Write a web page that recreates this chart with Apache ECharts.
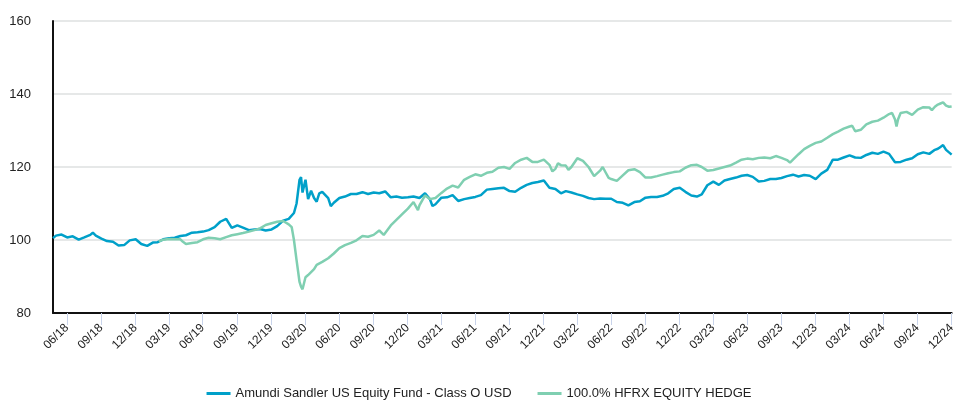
<!DOCTYPE html>
<html>
<head>
<meta charset="utf-8">
<script src="https://cdn.jsdelivr.net/npm/echarts@6/dist/echarts.min.js"></script>
<style>
  html, body { margin: 0; padding: 0; background: #fff; }
  #chart-container { width: 958px; height: 401px; }
</style>
</head>
<body>
<div id="chart-container"></div>
<script>
var dom = document.getElementById("chart-container");
var myChart = echarts.init(dom, null, { renderer: "canvas" });

// Amundi Sandler US Equity Fund - Class O USD
const fundDates = [
  "2018-05-24", "2018-06-01", "2018-06-16", "2018-07-01", "2018-07-16", "2018-08-01", "2018-08-16",
  "2018-09-01", "2018-09-08", "2018-09-16", "2018-10-01", "2018-10-16", "2018-11-01", "2018-11-16",
  "2018-12-01", "2018-12-16", "2019-01-01", "2019-01-16", "2019-02-01", "2019-02-16", "2019-03-01",
  "2019-03-16", "2019-04-01", "2019-04-16", "2019-05-01", "2019-05-16", "2019-06-01", "2019-06-16",
  "2019-07-01", "2019-07-16", "2019-08-01", "2019-08-16", "2019-09-01", "2019-09-16", "2019-10-01",
  "2019-10-16", "2019-11-01", "2019-11-16", "2019-12-01", "2019-12-16", "2020-01-01", "2020-01-16",
  "2020-02-01", "2020-02-16", "2020-03-01", "2020-03-08", "2020-03-16", "2020-03-20", "2020-03-24",
  "2020-04-01", "2020-04-08", "2020-04-16", "2020-04-24", "2020-05-01", "2020-05-08", "2020-05-16",
  "2020-06-01", "2020-06-08", "2020-06-16", "2020-07-01", "2020-07-16", "2020-08-01", "2020-08-16",
  "2020-09-01", "2020-09-16", "2020-10-01", "2020-10-16", "2020-11-01", "2020-11-16", "2020-12-01",
  "2020-12-16", "2021-01-01", "2021-01-16", "2021-02-01", "2021-02-16", "2021-03-01", "2021-03-08",
  "2021-03-16", "2021-04-01", "2021-04-16", "2021-05-01", "2021-05-16", "2021-06-01", "2021-06-16",
  "2021-07-01", "2021-07-16", "2021-08-01", "2021-08-16", "2021-09-01", "2021-09-16", "2021-10-01",
  "2021-10-16", "2021-11-01", "2021-11-16", "2021-12-01", "2021-12-16", "2022-01-01", "2022-01-16",
  "2022-02-01", "2022-02-16", "2022-03-01", "2022-03-16", "2022-04-01", "2022-04-16", "2022-05-01",
  "2022-05-16", "2022-06-01", "2022-06-16", "2022-07-01", "2022-07-16", "2022-08-01", "2022-08-16",
  "2022-09-01", "2022-09-16", "2022-10-01", "2022-10-16", "2022-11-01", "2022-11-16", "2022-12-01",
  "2022-12-16", "2023-01-01", "2023-01-16", "2023-02-01", "2023-02-16", "2023-03-01", "2023-03-16",
  "2023-04-01", "2023-04-16", "2023-05-01", "2023-05-16", "2023-06-01", "2023-06-16", "2023-07-01",
  "2023-07-16", "2023-08-01", "2023-08-16", "2023-09-01", "2023-09-16", "2023-10-01", "2023-10-16",
  "2023-11-01", "2023-11-16", "2023-12-01", "2023-12-16", "2024-01-01", "2024-01-16", "2024-02-01",
  "2024-02-08", "2024-02-16", "2024-03-01", "2024-03-16", "2024-04-01", "2024-04-16", "2024-05-01",
  "2024-05-16", "2024-06-01", "2024-06-16", "2024-07-01", "2024-07-16", "2024-08-01", "2024-08-16",
  "2024-09-01", "2024-09-16", "2024-10-01", "2024-10-16", "2024-11-01", "2024-11-16", "2024-11-24",
  "2024-12-01", "2024-12-08", "2024-12-16", "2024-12-24", "2024-12-31"
];
const fundValues = [
  100.5, 101.2, 101.5, 100.7, 101.0, 100.1, 100.7,
  101.4, 102.0, 101.2, 100.4, 99.7, 99.5, 98.5,
  98.6, 99.9, 100.2, 98.9, 98.4, 99.3, 99.4,
  100.2, 100.5, 100.6, 101.1, 101.3, 102.0, 102.1,
  102.3, 102.7, 103.5, 105.0, 105.8, 103.3, 104.0,
  103.4, 102.7, 102.9, 103.0, 102.6, 102.9, 103.8,
  105.3, 105.8, 107.4, 110.0, 116.5, 117.2, 113.0,
  116.5, 111.2, 113.5, 111.5, 110.5, 112.8, 113.2,
  111.5, 109.3, 110.2, 111.5, 111.9, 112.6, 112.6,
  113.1, 112.6, 113.0, 112.8, 113.3, 111.7, 111.9,
  111.6, 111.7, 111.9, 111.5, 112.8, 111.2, 109.3,
  109.8, 111.6, 111.7, 112.3, 110.7, 111.2, 111.5,
  111.8, 112.3, 113.8, 114.0, 114.2, 114.3, 113.4,
  113.2, 114.3, 115.1, 115.6, 115.9, 116.3, 114.3,
  114.0, 112.8, 113.4, 113.0, 112.5, 112.1, 111.5,
  111.2, 111.4, 111.3, 111.3, 110.4, 110.2, 109.5,
  110.4, 110.6, 111.6, 111.8, 111.8, 112.1, 112.8,
  114.0, 114.3, 113.2, 112.2, 111.9, 112.5, 115.0,
  116.0, 115.1, 116.3, 116.7, 117.1, 117.6, 117.8,
  117.3, 116.0, 116.2, 116.7, 116.7, 117.0, 117.5,
  117.9, 117.4, 117.8, 117.6, 116.7, 118.2, 119.2,
  120.5, 122.0, 122.0, 122.6, 123.2, 122.6, 122.5,
  123.3, 123.9, 123.6, 124.2, 123.6, 121.3, 121.4,
  122.0, 122.4, 123.5, 124.0, 123.6, 124.7, 125.0,
  125.5, 126.0, 124.7, 124.0, 123.4
];

// 100.0% HFRX EQUITY HEDGE
const hedgeDates = [
  "2019-03-04", "2019-03-16", "2019-04-01", "2019-04-16", "2019-05-01", "2019-05-08", "2019-05-16",
  "2019-06-01", "2019-06-16", "2019-07-01", "2019-07-16", "2019-08-01", "2019-08-16", "2019-09-01",
  "2019-09-16", "2019-10-01", "2019-10-16", "2019-11-01", "2019-11-16", "2019-12-01", "2019-12-16",
  "2020-01-01", "2020-01-16", "2020-02-01", "2020-02-16", "2020-02-24", "2020-03-01", "2020-03-08",
  "2020-03-16", "2020-03-20", "2020-03-24", "2020-04-01", "2020-04-08", "2020-04-16", "2020-04-24",
  "2020-05-01", "2020-05-16", "2020-06-01", "2020-06-16", "2020-07-01", "2020-07-16", "2020-08-01",
  "2020-08-16", "2020-09-01", "2020-09-16", "2020-10-01", "2020-10-16", "2020-10-28", "2020-11-01",
  "2020-11-16", "2020-12-01", "2020-12-16", "2021-01-01", "2021-01-16", "2021-01-28", "2021-02-01",
  "2021-02-16", "2021-03-01", "2021-03-16", "2021-04-01", "2021-04-16", "2021-05-01", "2021-05-16",
  "2021-06-01", "2021-06-16", "2021-07-01", "2021-07-16", "2021-08-01", "2021-08-16", "2021-09-01",
  "2021-09-16", "2021-10-01", "2021-10-16", "2021-11-01", "2021-11-16", "2021-12-01", "2021-12-16",
  "2022-01-01", "2022-01-16", "2022-01-24", "2022-02-01", "2022-02-08", "2022-02-16", "2022-03-01",
  "2022-03-08", "2022-03-16", "2022-04-01", "2022-04-16", "2022-05-01", "2022-05-16", "2022-06-01",
  "2022-06-08", "2022-06-16", "2022-06-24", "2022-07-01", "2022-07-16", "2022-08-01", "2022-08-16",
  "2022-09-01", "2022-09-16", "2022-10-01", "2022-10-16", "2022-11-01", "2022-11-16", "2022-12-01",
  "2022-12-16", "2023-01-01", "2023-01-16", "2023-02-01", "2023-02-16", "2023-03-01", "2023-03-16",
  "2023-04-01", "2023-04-16", "2023-05-01", "2023-05-16", "2023-06-01", "2023-06-16", "2023-07-01",
  "2023-07-16", "2023-08-01", "2023-08-16", "2023-09-01", "2023-09-16", "2023-10-01", "2023-10-16",
  "2023-10-24", "2023-11-01", "2023-11-16", "2023-12-01", "2023-12-16", "2024-01-01", "2024-01-16",
  "2024-02-01", "2024-02-16", "2024-03-01", "2024-03-16", "2024-04-01", "2024-04-08", "2024-04-16",
  "2024-04-20", "2024-05-01", "2024-05-16", "2024-06-01", "2024-06-16", "2024-07-01", "2024-07-16",
  "2024-07-24", "2024-08-01", "2024-08-05", "2024-08-09", "2024-08-16", "2024-09-01", "2024-09-16",
  "2024-10-01", "2024-10-16", "2024-11-01", "2024-11-08", "2024-11-16", "2024-11-24", "2024-12-01",
  "2024-12-08", "2024-12-16", "2024-12-24", "2024-12-31"
];
const hedgeValues = [
  99.6, 100.1, 100.3, 100.2, 100.2, 99.5, 98.9,
  99.2, 99.4, 100.2, 100.6, 100.5, 100.2, 100.8,
  101.3, 101.6, 101.9, 102.3, 102.7, 103.2, 104.1,
  104.6, 105.0, 105.2, 104.3, 103.5, 100.0, 94.5,
  88.5, 87.2, 86.5, 89.8, 90.4, 91.2, 92.0,
  93.2, 94.0, 95.0, 96.3, 97.8, 98.6, 99.2,
  99.9, 101.1, 100.9, 101.4, 102.6, 101.4, 101.6,
  104.0, 105.5, 107.0, 108.6, 110.4, 108.2, 109.5,
  112.2, 111.2, 111.5, 112.9, 114.1, 114.9, 114.4,
  116.5, 117.3, 118.0, 117.6, 118.4, 118.7, 119.8,
  120.0, 119.5, 121.1, 122.0, 122.5, 121.4, 121.4,
  122.0, 120.6, 118.8, 119.5, 121.0, 120.5, 120.4,
  119.2, 120.0, 122.4, 121.7, 120.0, 117.5, 119.0,
  120.0, 118.5, 117.0, 116.7, 116.2, 117.7, 119.1,
  119.4, 118.6, 117.1, 117.1, 117.5, 117.9, 118.3,
  118.6, 118.8, 119.8, 120.5, 120.6, 120.0, 119.0,
  119.2, 119.6, 120.0, 120.4, 121.2, 122.0, 122.3,
  122.1, 122.5, 122.6, 122.4, 123.0, 122.5, 121.9,
  121.2, 122.0, 123.5, 124.9, 125.8, 126.6, 127.0,
  128.0, 129.0, 129.7, 130.5, 131.1, 131.3, 129.8,
  129.3, 130.2, 131.7, 132.4, 132.7, 133.5, 134.5,
  134.8, 133.0, 131.1, 133.0, 134.8, 135.1, 134.3,
  135.7, 136.4, 136.3, 135.6, 136.5, 137.1, 137.4,
  137.7, 136.8, 136.5, 136.6
];

// quarter-end ticks on the x axis
const tickDates = [
  "2018-06-30", "2018-09-30", "2018-12-31", "2019-03-31", "2019-06-30", "2019-09-30", "2019-12-31",
  "2020-03-31", "2020-06-30", "2020-09-30", "2020-12-31", "2021-03-31", "2021-06-30", "2021-09-30",
  "2021-12-31", "2022-03-31", "2022-06-30", "2022-09-30", "2022-12-31", "2023-03-31", "2023-06-30",
  "2023-09-30", "2023-12-31", "2024-03-31", "2024-06-30", "2024-09-30", "2024-12-31"
];
const tickLabels = [
  "06/18", "09/18", "12/18", "03/19", "06/19", "09/19", "12/19",
  "03/20", "06/20", "09/20", "12/20", "03/21", "06/21", "09/21",
  "12/21", "03/22", "06/22", "09/22", "12/22", "03/23", "06/23",
  "09/23", "12/23", "03/24", "06/24", "09/24", "12/24"
];

const seriesNames = ["Amundi Sandler US Equity Fund - Class O USD", "100.0% HFRX EQUITY HEDGE"];

// dates -> timestamps, plotted on a plain value axis
function toTime(d) {
  return +echarts.time.parse(d);
}
const tickTimes = tickDates.map(toTime);

function labelFor(val) {
  let best = 0;
  for (let i = 1; i < tickTimes.length; i++) {
    if (Math.abs(tickTimes[i] - val) < Math.abs(tickTimes[best] - val)) best = i;
  }
  return tickLabels[best];
}

const fontFamily = "'Liberation Sans', Arial, Helvetica, sans-serif";

var option = {
  animation: false,
  color: ["#00a0c9", "#7fcfb1"],
  grid: {
    left: 53,
    right: 1,
    top: 21,
    bottom: 88,
  },
  legend: {
    top: 382,
    left: "center",
    itemWidth: 24,
    itemHeight: 3,
    itemGap: 26,
    icon: "rect",
    textStyle: { fontSize: 13, color: "#222", fontFamily: fontFamily },
    data: seriesNames,
  },
  xAxis: {
    type: "value",
    min: toTime("2018-05-24"),
    max: toTime("2024-12-31"),
    axisLine: { lineStyle: { color: "#111", width: 2 } },
    axisTick: {
      customValues: tickTimes,
      length: 12,
      lineStyle: { color: "#c8d3ea", width: 1 },
    },
    axisLabel: {
      customValues: tickTimes,
      rotate: 45,
      margin: 13,
      fontSize: 12,
      color: "#222",
      fontFamily: fontFamily,
      formatter: labelFor,
    },
    splitLine: { show: false },
  },
  yAxis: {
    type: "value",
    min: 80,
    max: 160,
    interval: 20,
    axisLine: { show: true, lineStyle: { color: "#111", width: 2 } },
    axisTick: { show: false },
    axisLabel: { fontSize: 13, color: "#222", margin: 22, fontFamily: fontFamily },
    splitLine: { lineStyle: { color: "#e6e8e8", width: 2 } },
  },
  series: [
    {
      name: seriesNames[0],
      type: "line",
      symbol: "none",
      lineStyle: { width: 2.5 },
      data: fundDates.map((d, i) => [toTime(d), fundValues[i]]),
    },
    {
      name: seriesNames[1],
      type: "line",
      symbol: "none",
      lineStyle: { width: 2.5 },
      data: hedgeDates.map((d, i) => [toTime(d), hedgeValues[i]]),
    },
  ],
};

myChart.setOption(option);
window.addEventListener("resize", myChart.resize);
</script>
</body>
</html>
